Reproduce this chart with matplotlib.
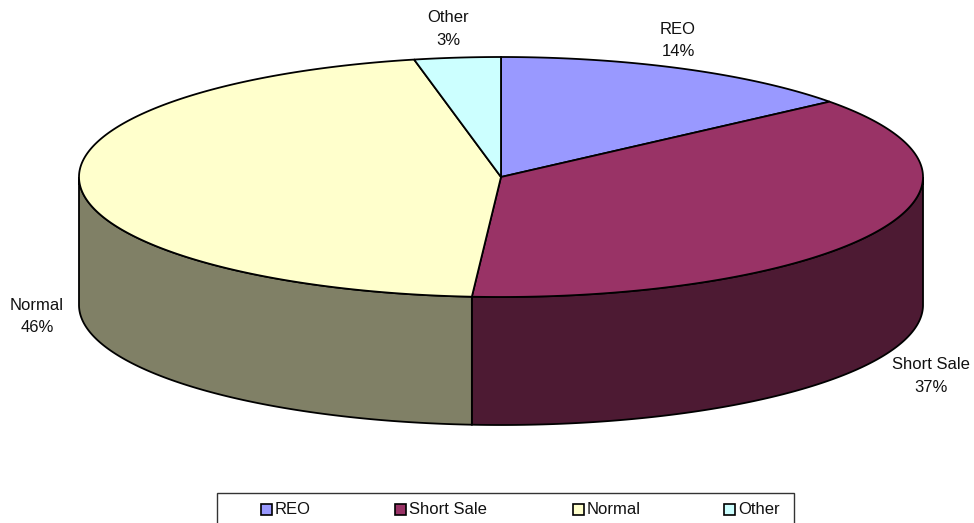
import numpy as np
import matplotlib
matplotlib.use('Agg')
import matplotlib.pyplot as plt
from matplotlib.patches import Polygon, Rectangle

plt.rcParams['font.family'] = ['Liberation Sans', 'DejaVu Sans']

LABELS = ["REO", "Short Sale", "Normal", "Other"]
VALUES = [14.2, 36.9, 45.6, 3.3]
PERCENT_TEXT = ["14%", "37%", "46%", "3%"]
TOP_COLORS = ['#9999FF', '#993366', '#FFFFCC', '#CCFFFF']
SIDE_COLORS = ['#4D4D80', '#4D1A33', '#808066', '#668080']

# pie geometry, in pixels
CX, CY = 501, 177
RX, RY = 422, 120
DEPTH = 128
LABEL_POS = [(678, 40.5), (931, 376), (37, 316.5), (448, 29)]
LEGEND_X = [260, 394, 572, 723]

FONT = 12


def rim(t0, t1, drop=0):
    """Points on the ellipse, t measured clockwise from 12 o'clock."""
    t = np.radians(np.linspace(t0, t1, max(int(abs(t1 - t0)) * 2, 2)))
    return np.column_stack([CX + RX * np.sin(t), CY - RY * np.cos(t) + drop])


fig = plt.figure(figsize=(9.74, 5.23), dpi=100)
ax = fig.add_axes([0, 0, 1, 1])
ax.set_xlim(0, 974)
ax.set_ylim(523, 0)
ax.axis('off')

edges = np.concatenate([[0], np.cumsum(VALUES)]) / np.sum(VALUES) * 360

# outer wall: only the part facing the viewer (90 to 270 deg) shows
for i in range(len(VALUES)):
    a, b = max(edges[i], 90), min(edges[i + 1], 270)
    if a >= b:
        continue
    wall = np.vstack([rim(a, b), rim(a, b, DEPTH)[::-1]])
    ax.add_patch(Polygon(wall, closed=True, fc=SIDE_COLORS[i], ec='black', lw=1.3, zorder=2))

# top face
for i in range(len(VALUES)):
    pts = np.vstack([[CX, CY], rim(edges[i], edges[i + 1])])
    ax.add_patch(Polygon(pts, closed=True, fc=TOP_COLORS[i], ec='black', lw=1.3, zorder=3))

for (x, y), name, pct in zip(LABEL_POS, LABELS, PERCENT_TEXT):
    ax.text(x, y, f"{name}\n{pct}", ha='center', va='center', fontsize=FONT,
            color='#111111', linespacing=1.62)

# legend box, cut by the bottom of the picture
ax.add_patch(Rectangle((216.5, 492.5), 577, 40, fc='white', ec='#333333', lw=1.0, zorder=2))
for x, name, color in zip(LEGEND_X, LABELS, TOP_COLORS):
    ax.add_patch(Rectangle((x + 0.5, 504), 11, 11, fc=color, ec='black', lw=1.2, zorder=3))
    ax.text(x + 15, 510, name, ha='left', va='center', fontsize=FONT, color='#111111', zorder=3)

fig.savefig('out.png', dpi=100)
